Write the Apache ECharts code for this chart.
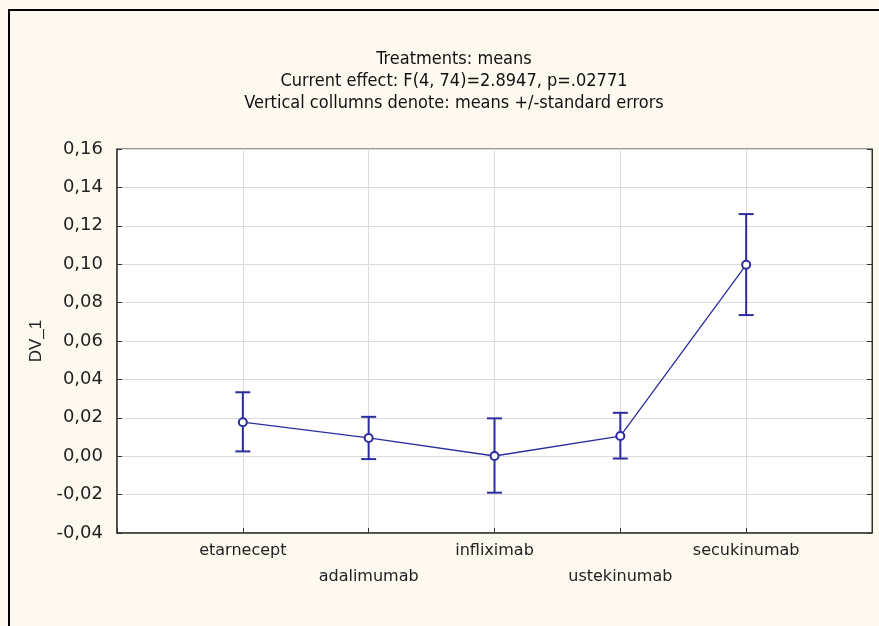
<!DOCTYPE html>
<html>
<head>
<meta charset="utf-8">
<script src="https://cdn.jsdelivr.net/npm/echarts@6/dist/echarts.min.js"></script>
<style>
html,body{margin:0;padding:0;background:#fdf9ee;}
#chart{width:879px;height:626px;}
</style>
</head>
<body>
<div id="chart"></div>
<script>
const categories = ['etarnecept', 'adalimumab', 'infliximab', 'ustekinumab', 'secukinumab'];
const means = [0.0177, 0.0095, 0.0001, 0.0105, 0.0997];
const upper = [0.0333, 0.0205, 0.0197, 0.0226, 0.1261];
const lower = [0.0025, -0.0015, -0.0190, -0.0012, 0.0735];
const titleLines = ['Treatments: means', 'Current effect: F(4, 74)=2.8947, p=.02771', 'Vertical collumns denote: means +/-standard errors'];
const yTicks = { min: -0.04, max: 0.16, interval: 0.02 };
const yName = 'DV_1';

const blue = '#2c2c9e';
const chart = echarts.init(document.getElementById('chart'));
const lineData = means.map((m, i) => [i + 1, m]);
const errData = means.map((m, i) => [i + 1, lower[i], upper[i]]);

chart.setOption({
  backgroundColor: '#fdf9ee',
  animation: false,
  title: {
    text: titleLines.join('\n'),
    left: 449, top: 43, textAlign: 'center',
    textStyle: { fontFamily: 'Liberation Sans Narrow, DejaVu Sans Condensed, sans-serif', fontSize: 18, fontWeight: 'normal', color: '#111', lineHeight: 22 }
  },
  graphic: [{
    type: 'rect', z: 100, silent: true,
    shape: { x: 9, y: 10, width: 880, height: 640 },
    style: { fill: 'none', stroke: '#000', lineWidth: 2 }
  }],
  grid: { left: 117, top: 149, right: 7, bottom: 93, show: true, backgroundColor: '#ffffff', borderColor: '#333', borderWidth: 1 },
  xAxis: {
    type: 'value', min: 0, max: 6, interval: 1,
    axisLine: { show: true, onZero: false, lineStyle: { color: '#333', width: 1.5 } },
    axisTick: { show: true, inside: true, length: 5, lineStyle: { color: '#333' } },
    splitLine: { show: true, lineStyle: { color: '#dcdcdc', width: 1 } },
    axisLabel: {
      margin: 5, lineHeight: 26, fontSize: 16, color: '#222', fontFamily: 'DejaVu Sans, sans-serif',
      formatter: v => {
        const i = Math.round(v) - 1;
        if (i < 0 || i >= categories.length) return '';
        return i % 2 === 1 ? '\n' + categories[i] : categories[i];
      }
    }
  },
  yAxis: [{
    type: 'value', min: yTicks.min, max: yTicks.max, interval: yTicks.interval,
    name: yName, nameLocation: 'middle', nameGap: 72, nameRotate: 90,
    nameTextStyle: { fontSize: 17, color: '#222', fontFamily: 'Liberation Sans, Arial, sans-serif' },
    axisLine: { show: true, onZero: false, lineStyle: { color: '#333', width: 1.5 } },
    axisTick: { show: true, inside: true, length: 5, lineStyle: { color: '#333' } },
    splitLine: { show: true, lineStyle: { color: '#dcdcdc', width: 1 } },
    axisLabel: {
      margin: 14, fontSize: 18, color: '#222', fontFamily: 'DejaVu Sans, sans-serif',
      formatter: v => v.toFixed(2).replace('.', ',')
    }
  }, {
    type: 'value', position: 'right', min: yTicks.min, max: yTicks.max, interval: yTicks.interval,
    axisLine: { show: true, onZero: false, lineStyle: { color: '#333' } },
    axisTick: { show: true, inside: true, length: 5, lineStyle: { color: '#333' } },
    axisLabel: { show: false }, splitLine: { show: false }
  }],
  series: [{
    type: 'custom',
    data: errData,
    z: 3,
    renderItem: (params, api) => {
      const x = api.value(0);
      const lo = api.coord([x, api.value(1)]);
      const hi = api.coord([x, api.value(2)]);
      const w = 7.5;
      const st = { stroke: blue, lineWidth: 2 };
      return {
        type: 'group',
        children: [
          { type: 'line', shape: { x1: lo[0], y1: lo[1], x2: hi[0], y2: hi[1] }, style: st },
          { type: 'line', shape: { x1: hi[0] - w, y1: hi[1], x2: hi[0] + w, y2: hi[1] }, style: st },
          { type: 'line', shape: { x1: lo[0] - w, y1: lo[1], x2: lo[0] + w, y2: lo[1] }, style: st }
        ]
      };
    }
  }, {
    type: 'line',
    data: lineData,
    z: 4,
    symbol: 'emptyCircle', symbolSize: 8,
    lineStyle: { color: blue, width: 1.3 },
    itemStyle: { color: blue, borderWidth: 1.5 }
  }]
});
</script>
</body>
</html>
